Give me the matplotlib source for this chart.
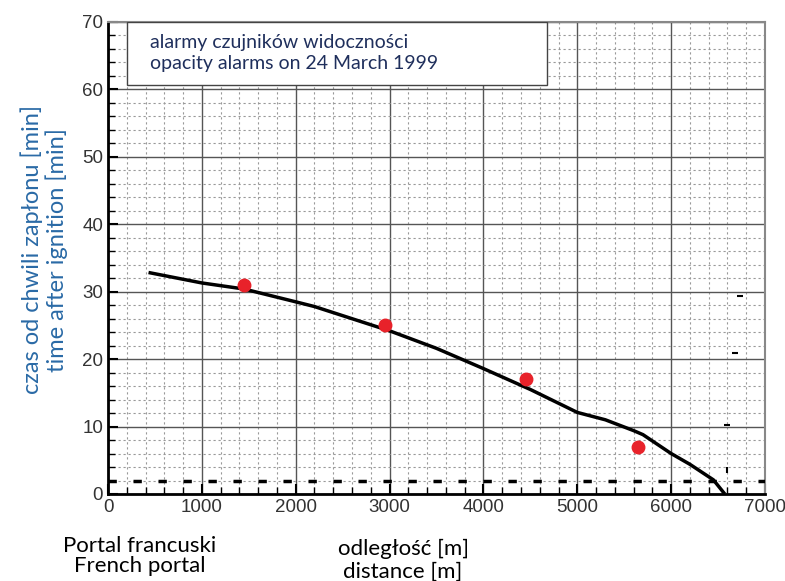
import numpy as np
import matplotlib
matplotlib.use('Agg')
import matplotlib.pyplot as plt
from matplotlib.patches import Rectangle

# curve: distance [m] vs time [min]
curve_x = [450, 1000, 1450, 2000, 2200, 2600, 3000, 3500, 4000, 4500, 5000, 5300, 5600, 5700, 6000, 6200, 6450, 6560]
curve_y = [32.8, 31.3, 30.4, 28.5, 27.8, 26.0, 24.2, 21.6, 18.6, 15.5, 12.1, 11.0, 9.4, 8.8, 6.0, 4.4, 2.1, 0.2]

# opacity alarms
alarm_x = [1450, 2950, 4450, 5650]
alarm_y = [31, 25, 17, 7]

# stray marks near the right edge
stray_x = [6730, 6680, 6590]
stray_y = [29.4, 20.9, 10.2]

level_y = 2

fig = plt.figure(figsize=(7.85, 5.81), dpi=100)
ax = fig.add_axes([108/785, 1-494/581, 657/785, 472/581])

ax.set_xlim(0, 7000)
ax.set_ylim(0, 70)
ax.set_xticks(np.arange(0, 7001, 1000))
ax.set_yticks(np.arange(0, 71, 10))
ax.set_xticks(np.arange(0, 7001, 200), minor=True)
ax.set_yticks(np.arange(0, 71, 2), minor=True)

ax.grid(which='major', color='#555555', lw=1.0, ls='-')
ax.grid(which='minor', color='#999999', lw=0.8, ls=(0, (2, 2.5)))
ax.set_axisbelow(True)

ax.tick_params(which='both', direction='in', top=False, right=False,
               labelsize=13.5, labelcolor='#333333')
ax.tick_params(which='major', length=7, width=1.5)
ax.tick_params(which='minor', length=5, width=1.0)
for lab in ax.get_xticklabels() + ax.get_yticklabels():
    lab.set_family('Liberation Sans')

for s in ['left', 'bottom']:
    ax.spines[s].set_linewidth(2)
    ax.spines[s].set_color('black')
for s in ['top', 'right']:
    ax.spines[s].set_linewidth(1.5)
    ax.spines[s].set_color('#888888')

ax.axhline(level_y, color='black', lw=2.5, dashes=(2.4, 4.8), zorder=3)
ax.plot(curve_x, curve_y, color='black', lw=2.5, zorder=4)
ax.plot(alarm_x, alarm_y, 'o', color='#e8222a', ms=9, zorder=5)
ax.plot(stray_x, stray_y, '_', color='black', ms=4, mew=1.5, zorder=4)
ax.plot([6600], [3.5], '|', color='black', ms=5, mew=1.5, zorder=4)

box = Rectangle((200, 60.7), 4480, 9.3, facecolor='white', edgecolor='#444444',
                lw=1.0, zorder=6)
ax.add_patch(box)
ax.text(450, 67.0, 'alarmy czujników widoczności', fontsize=14, color='#1f2f5c',
        family='Lato', va='center', zorder=7)
ax.text(450, 63.9, 'opacity alarms on 24 March 1999', fontsize=14, color='#1f2f5c',
        family='Lato', va='center', zorder=7)

fig.text(44/785, 1-250/581, 'czas od chwili zapłonu [min]\ntime after ignition [min]',
         rotation=90, ha='center', va='center', fontsize=17, color='#2a6aa6',
         family='Lato', linespacing=1.15)

fig.text(140/785, 1-556/581, 'Portal francuski\nFrench portal', ha='center', va='center',
         fontsize=16, color='black', family='Lato', linespacing=1.05)
fig.text(403/785, 1-560/581, 'odległość [m]\ndistance [m]', ha='center', va='center',
         fontsize=16, color='black', family='Lato', linespacing=1.15)

fig.savefig('out.png', dpi=100)
